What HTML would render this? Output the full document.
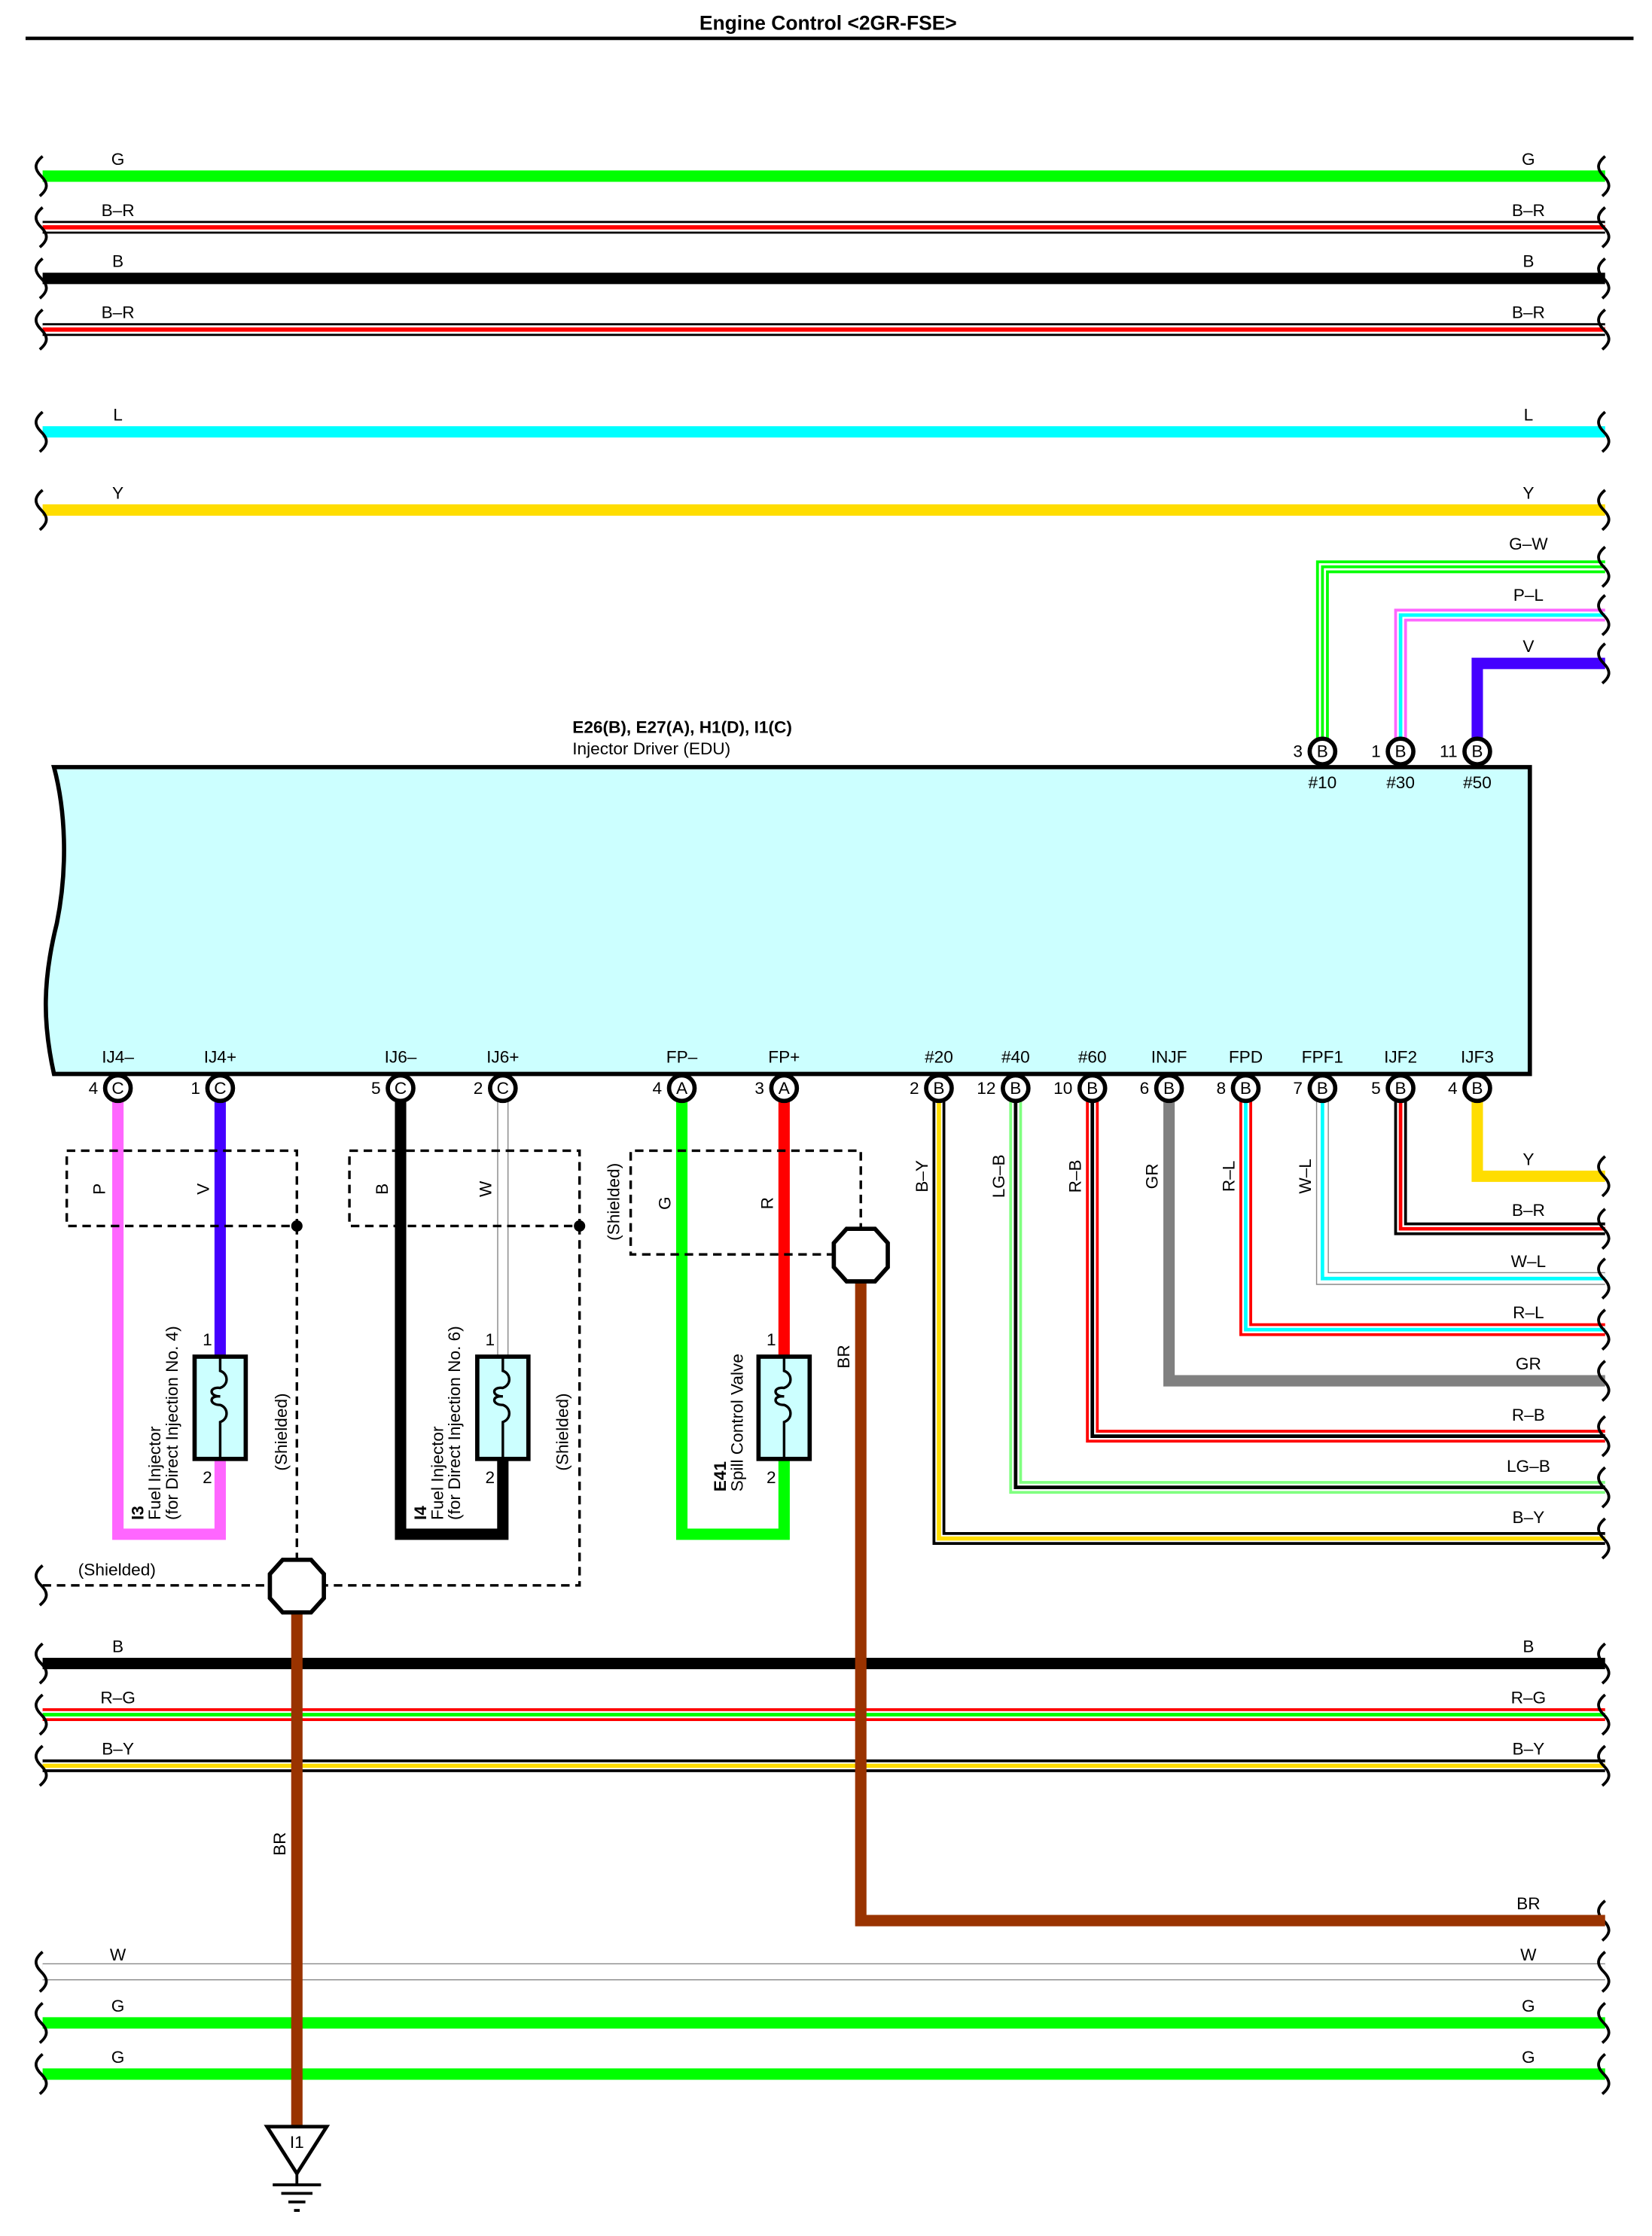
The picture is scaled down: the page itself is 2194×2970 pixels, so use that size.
<!DOCTYPE html>
<html><head><meta charset="utf-8"><style>
html,body{margin:0;padding:0;background:#fff}
svg{display:block}
text{font-family:"Liberation Sans",sans-serif;font-size:12px;fill:#000}
.p{fill:none;stroke-linejoin:miter;stroke-linecap:butt}
</style></head><body>
<svg width="2194" height="2970" viewBox="0 0 1163 1574" preserveAspectRatio="none" xmlns="http://www.w3.org/2000/svg">
<defs>
<path id="wl" d="M3,-14 c-6,5 -6,9 -1,14 c5,5 5,9 -1,14" fill="none" stroke="#000" stroke-width="2"/>
</defs>
<text x="583" y="21" text-anchor="middle" style="font-weight:bold;font-size:14px">Engine Control &lt;2GR-FSE&gt;</text>
<line x1="18" y1="27" x2="1150" y2="27" stroke="#000" stroke-width="2.5"/>

<g class="p">
<line x1="30" y1="124" x2="1130" y2="124" stroke="#00ff00" stroke-width="8"/>
<line x1="30" y1="160" x2="1130" y2="160" stroke="#000" stroke-width="9"/><line x1="30" y1="160" x2="1130" y2="160" stroke="#fff" stroke-width="6"/><line x1="30" y1="160" x2="1130" y2="160" stroke="#f00" stroke-width="3"/>
<line x1="30" y1="196" x2="1130" y2="196" stroke="#000" stroke-width="8"/>
<line x1="30" y1="232" x2="1130" y2="232" stroke="#000" stroke-width="9"/><line x1="30" y1="232" x2="1130" y2="232" stroke="#fff" stroke-width="6"/><line x1="30" y1="232" x2="1130" y2="232" stroke="#f00" stroke-width="3"/>
<line x1="30" y1="304" x2="1130" y2="304" stroke="#00ffff" stroke-width="8"/>
<line x1="30" y1="359" x2="1130" y2="359" stroke="#ffdd00" stroke-width="8"/>
<polyline points="1130,399 931,399 931,520" stroke="#00ff00" stroke-width="9" class="p"/><polyline points="1130,399 931,399 931,520" stroke="#fff" stroke-width="5" class="p"/><polyline points="1130,399 931,399 931,520" stroke="#00ff00" stroke-width="2" class="p"/>
<polyline points="1130,433 986,433 986,520" stroke="#ff66ff" stroke-width="9" class="p"/><polyline points="1130,433 986,433 986,520" stroke="#fff" stroke-width="5" class="p"/><polyline points="1130,433 986,433 986,520" stroke="#00ffff" stroke-width="2.5" class="p"/>
<polyline points="1130,467 1040,467 1040,520" stroke="#4400ff" stroke-width="8" class="p"/>
</g>
<g>
<text x="83" y="116" text-anchor="middle">G</text><text x="1076" y="116" text-anchor="middle">G</text>
<text x="83" y="152" text-anchor="middle">B–R</text><text x="1076" y="152" text-anchor="middle">B–R</text>
<text x="83" y="188" text-anchor="middle">B</text><text x="1076" y="188" text-anchor="middle">B</text>
<text x="83" y="224" text-anchor="middle">B–R</text><text x="1076" y="224" text-anchor="middle">B–R</text>
<text x="83" y="296" text-anchor="middle">L</text><text x="1076" y="296" text-anchor="middle">L</text>
<text x="83" y="351" text-anchor="middle">Y</text><text x="1076" y="351" text-anchor="middle">Y</text>
<text x="1076" y="387" text-anchor="middle">G–W</text>
<text x="1076" y="423" text-anchor="middle">P–L</text>
<text x="1076" y="459" text-anchor="middle">V</text>
</g>
<g>
<use href="#wl" x="27" y="124"/><use href="#wl" x="1127" y="124"/>
<use href="#wl" x="27" y="160"/><use href="#wl" x="1127" y="160"/>
<use href="#wl" x="27" y="196"/><use href="#wl" x="1127" y="196"/>
<use href="#wl" x="27" y="232"/><use href="#wl" x="1127" y="232"/>
<use href="#wl" x="27" y="304"/><use href="#wl" x="1127" y="304"/>
<use href="#wl" x="27" y="359"/><use href="#wl" x="1127" y="359"/>
<use href="#wl" x="1127" y="399"/><use href="#wl" x="1127" y="433"/><use href="#wl" x="1127" y="467"/>
</g>

<text x="403" y="516" style="font-weight:bold">E26(B), E27(A), H1(D), I1(C)</text>
<text x="403" y="531">Injector Driver (EDU)</text>
<path d="M38,540 L1077,540 L1077,756 L38,756 C30,720 30,690 40,650 C48,610 46,570 38,540 Z" fill="#ccffff" stroke="#000" stroke-width="3"/>

<g>
<circle cx="931" cy="529" r="9" fill="#fff" stroke="#000" stroke-width="3"/><text x="931" y="533" text-anchor="middle">B</text><text x="917" y="533" text-anchor="end">3</text><text x="931" y="555" text-anchor="middle">#10</text>
<circle cx="986" cy="529" r="9" fill="#fff" stroke="#000" stroke-width="3"/><text x="986" y="533" text-anchor="middle">B</text><text x="972" y="533" text-anchor="end">1</text><text x="986" y="555" text-anchor="middle">#30</text>
<circle cx="1040" cy="529" r="9" fill="#fff" stroke="#000" stroke-width="3"/><text x="1040" y="533" text-anchor="middle">B</text><text x="1026" y="533" text-anchor="end">11</text><text x="1040" y="555" text-anchor="middle">#50</text>
</g>

<g class="p">
<polyline points="661,775 661,1083 1130,1083" stroke="#000" stroke-width="9"/><polyline points="661,775 661,1083 1130,1083" stroke="#fff" stroke-width="5"/><polyline points="661,775 661,1083 1130,1083" stroke="#ffdd00" stroke-width="3"/>
<polyline points="715,775 715,1047 1130,1047" stroke="#80ff80" stroke-width="9"/><polyline points="715,775 715,1047 1130,1047" stroke="#fff" stroke-width="5"/><polyline points="715,775 715,1047 1130,1047" stroke="#000" stroke-width="2.5"/>
<polyline points="769,775 769,1011 1130,1011" stroke="#f00" stroke-width="9"/><polyline points="769,775 769,1011 1130,1011" stroke="#fff" stroke-width="5"/><polyline points="769,775 769,1011 1130,1011" stroke="#000" stroke-width="2.5"/>
<polyline points="823,775 823,972 1130,972" stroke="#808080" stroke-width="8"/>
<polyline points="877,775 877,936 1130,936" stroke="#f00" stroke-width="9"/><polyline points="877,775 877,936 1130,936" stroke="#fff" stroke-width="5"/><polyline points="877,775 877,936 1130,936" stroke="#00ffff" stroke-width="2.5"/>
<polyline points="931,775 931,900 1130,900" stroke="#888" stroke-width="9"/><polyline points="931,775 931,900 1130,900" stroke="#fff" stroke-width="7.5"/><polyline points="931,775 931,900 1130,900" stroke="#00ffff" stroke-width="2.5"/>
<polyline points="986,775 986,865 1130,865" stroke="#000" stroke-width="9"/><polyline points="986,775 986,865 1130,865" stroke="#fff" stroke-width="5"/><polyline points="986,775 986,865 1130,865" stroke="#f00" stroke-width="2.5"/>
<polyline points="1040,775 1040,828 1130,828" stroke="#ffdd00" stroke-width="8"/>
</g>
<g>
<use href="#wl" x="1127" y="828"/><use href="#wl" x="1127" y="865"/><use href="#wl" x="1127" y="900"/><use href="#wl" x="1127" y="936"/>
<use href="#wl" x="1127" y="972"/><use href="#wl" x="1127" y="1011"/><use href="#wl" x="1127" y="1047"/><use href="#wl" x="1127" y="1083"/>
<text x="1076" y="820" text-anchor="middle">Y</text>
<text x="1076" y="856" text-anchor="middle">B–R</text>
<text x="1076" y="892" text-anchor="middle">W–L</text>
<text x="1076" y="928" text-anchor="middle">R–L</text>
<text x="1076" y="964" text-anchor="middle">GR</text>
<text x="1076" y="1000" text-anchor="middle">R–B</text>
<text x="1076" y="1036" text-anchor="middle">LG–B</text>
<text x="1076" y="1072" text-anchor="middle">B–Y</text>
<text transform="translate(653,828) rotate(-90)" text-anchor="middle">B–Y</text>
<text transform="translate(707,828) rotate(-90)" text-anchor="middle">LG–B</text>
<text transform="translate(761,828) rotate(-90)" text-anchor="middle">R–B</text>
<text transform="translate(815,828) rotate(-90)" text-anchor="middle">GR</text>
<text transform="translate(869,828) rotate(-90)" text-anchor="middle">R–L</text>
<text transform="translate(923,828) rotate(-90)" text-anchor="middle">W–L</text>
</g>

<g class="p">
<polyline points="83,775 83,1080 155,1080 155,1027" stroke="#ff66ff" stroke-width="8"/>
<polyline points="155,775 155,955" stroke="#4400ff" stroke-width="8"/>
<polyline points="282,775 282,1080 354,1080 354,1027" stroke="#000" stroke-width="8"/>
<polyline points="354,775 354,955" stroke="#888" stroke-width="8"/><polyline points="354,775 354,955" stroke="#fff" stroke-width="6.5"/>
<polyline points="480,775 480,1080 552,1080 552,1027" stroke="#00ff00" stroke-width="8"/>
<polyline points="552,775 552,955" stroke="#f00" stroke-width="8"/>
</g>
<use href="#wl" x="1127" y="1352"/>
<text x="1076" y="1344" text-anchor="middle">BR</text>
<text transform="translate(598,955) rotate(-90)" text-anchor="middle">BR</text>

<g fill="#ccffff" stroke="#000" stroke-width="3">
<rect x="137" y="955" width="36" height="72"/><rect x="336" y="955" width="36" height="72"/><rect x="534" y="955" width="36" height="72"/>
</g>
<g fill="none" stroke="#000" stroke-width="1.8">
<path d="M155,955 v10 c6,2 6,10 0,12 c-8,-1 -8,6 0,6 c-8,-1 -8,6 0,6 c6,2 6,10 0,12 v26"/>
<path d="M354,955 v10 c6,2 6,10 0,12 c-8,-1 -8,6 0,6 c-8,-1 -8,6 0,6 c6,2 6,10 0,12 v26"/>
<path d="M552,955 v10 c6,2 6,10 0,12 c-8,-1 -8,6 0,6 c-8,-1 -8,6 0,6 c6,2 6,10 0,12 v26"/>
</g>
<text x="146" y="947" text-anchor="middle">1</text><text x="146" y="1044" text-anchor="middle">2</text>
<text x="345" y="947" text-anchor="middle">1</text><text x="345" y="1044" text-anchor="middle">2</text>
<text x="543" y="947" text-anchor="middle">1</text><text x="543" y="1044" text-anchor="middle">2</text>
<g transform="translate(101,1070) rotate(-90)"><text x="0" y="0" style="font-weight:bold">I3</text><text x="0" y="12">Fuel Injector</text><text x="0" y="24">(for Direct Injection No. 4)</text></g>
<g transform="translate(300,1070) rotate(-90)"><text x="0" y="0" style="font-weight:bold">I4</text><text x="0" y="12">Fuel Injector</text><text x="0" y="24">(for Direct Injection No. 6)</text></g>
<g transform="translate(511,1050) rotate(-90)"><text x="0" y="0" style="font-weight:bold">E41</text><text x="0" y="12">Spill Control Valve</text></g>

<text transform="translate(74,837) rotate(-90)" text-anchor="middle">P</text>
<text transform="translate(147,837) rotate(-90)" text-anchor="middle">V</text>
<text transform="translate(273,837) rotate(-90)" text-anchor="middle">B</text>
<text transform="translate(346,837) rotate(-90)" text-anchor="middle">W</text>
<text transform="translate(472,847) rotate(-90)" text-anchor="middle">G</text>
<text transform="translate(544,847) rotate(-90)" text-anchor="middle">R</text>

<g fill="none" stroke="#000" stroke-width="1.8" stroke-dasharray="6,4">
<rect x="47" y="810" width="162" height="53"/>
<rect x="246" y="810" width="162" height="53"/>
<path d="M588,883 H444 V810 H606 V865"/>
<path d="M209,863 V1097"/>
<path d="M408,863 V1116 H228"/>
<path d="M30,1116 H190"/>
</g>
<circle cx="209" cy="863" r="4" fill="#000"/><circle cx="408" cy="863" r="4" fill="#000"/>
<use href="#wl" x="27" y="1116"/>
<text x="55" y="1109">(Shielded)</text>
<text transform="translate(202,1008) rotate(-90)" text-anchor="middle">(Shielded)</text>
<text transform="translate(400,1008) rotate(-90)" text-anchor="middle">(Shielded)</text>
<text transform="translate(436,846) rotate(-90)" text-anchor="middle">(Shielded)</text>

<g>
<text x="83" y="748" text-anchor="middle">IJ4–</text><text x="155" y="748" text-anchor="middle">IJ4+</text>
<text x="282" y="748" text-anchor="middle">IJ6–</text><text x="354" y="748" text-anchor="middle">IJ6+</text>
<text x="480" y="748" text-anchor="middle">FP–</text><text x="552" y="748" text-anchor="middle">FP+</text>
<text x="661" y="748" text-anchor="middle">#20</text><text x="715" y="748" text-anchor="middle">#40</text>
<text x="769" y="748" text-anchor="middle">#60</text><text x="823" y="748" text-anchor="middle">INJF</text>
<text x="877" y="748" text-anchor="middle">FPD</text><text x="931" y="748" text-anchor="middle">FPF1</text>
<text x="986" y="748" text-anchor="middle">IJF2</text><text x="1040" y="748" text-anchor="middle">IJF3</text>
</g>
<g fill="#fff" stroke="#000" stroke-width="3">
<circle cx="83" cy="766" r="9"/><circle cx="155" cy="766" r="9"/><circle cx="282" cy="766" r="9"/><circle cx="354" cy="766" r="9"/>
<circle cx="480" cy="766" r="9"/><circle cx="552" cy="766" r="9"/><circle cx="661" cy="766" r="9"/><circle cx="715" cy="766" r="9"/>
<circle cx="769" cy="766" r="9"/><circle cx="823" cy="766" r="9"/><circle cx="877" cy="766" r="9"/><circle cx="931" cy="766" r="9"/>
<circle cx="986" cy="766" r="9"/><circle cx="1040" cy="766" r="9"/>
</g>
<g text-anchor="middle">
<text x="83" y="770">C</text><text x="155" y="770">C</text><text x="282" y="770">C</text><text x="354" y="770">C</text>
<text x="480" y="770">A</text><text x="552" y="770">A</text><text x="661" y="770">B</text><text x="715" y="770">B</text>
<text x="769" y="770">B</text><text x="823" y="770">B</text><text x="877" y="770">B</text><text x="931" y="770">B</text>
<text x="986" y="770">B</text><text x="1040" y="770">B</text>
</g>
<g text-anchor="end">
<text x="69" y="770">4</text><text x="141" y="770">1</text><text x="268" y="770">5</text><text x="340" y="770">2</text>
<text x="466" y="770">4</text><text x="538" y="770">3</text><text x="647" y="770">2</text><text x="701" y="770">12</text>
<text x="755" y="770">10</text><text x="809" y="770">6</text><text x="863" y="770">8</text><text x="917" y="770">7</text>
<text x="972" y="770">5</text><text x="1026" y="770">4</text>
</g>

<g class="p">
<line x1="30" y1="1171" x2="1130" y2="1171" stroke="#000" stroke-width="8"/>
<line x1="30" y1="1207" x2="1130" y2="1207" stroke="#f00" stroke-width="9"/><line x1="30" y1="1207" x2="1130" y2="1207" stroke="#fff" stroke-width="5"/><line x1="30" y1="1207" x2="1130" y2="1207" stroke="#00ff00" stroke-width="2.5"/>
<line x1="30" y1="1243" x2="1130" y2="1243" stroke="#000" stroke-width="9"/><line x1="30" y1="1243" x2="1130" y2="1243" stroke="#fff" stroke-width="5"/><line x1="30" y1="1243" x2="1130" y2="1243" stroke="#ffdd00" stroke-width="3"/>
<line x1="30" y1="1388" x2="1130" y2="1388" stroke="#888" stroke-width="12"/><line x1="30" y1="1388" x2="1130" y2="1388" stroke="#fff" stroke-width="10.5"/>
<line x1="30" y1="1424" x2="1130" y2="1424" stroke="#00ff00" stroke-width="8"/>
<line x1="30" y1="1460" x2="1130" y2="1460" stroke="#00ff00" stroke-width="8"/>
<polyline points="606,900 606,1352 1130,1352" stroke="#993300" stroke-width="8"/>
<line x1="209" y1="1136" x2="209" y2="1497" stroke="#993300" stroke-width="8"/>
</g>
<polygon points="199,1098 219,1098 228,1108 228,1125 219,1135 199,1135 190,1125 190,1108" fill="#fff" stroke="#000" stroke-width="3"/>
<polygon points="596,865 616,865 625,875 625,892 616,902 596,902 587,892 587,875" fill="#fff" stroke="#000" stroke-width="3"/>
<g>
<use href="#wl" x="27" y="1171"/><use href="#wl" x="1127" y="1171"/>
<use href="#wl" x="27" y="1207"/><use href="#wl" x="1127" y="1207"/>
<use href="#wl" x="27" y="1243"/><use href="#wl" x="1127" y="1243"/>
<use href="#wl" x="27" y="1388"/><use href="#wl" x="1127" y="1388"/>
<use href="#wl" x="27" y="1424"/><use href="#wl" x="1127" y="1424"/>
<use href="#wl" x="27" y="1460"/><use href="#wl" x="1127" y="1460"/>
<text x="83" y="1163" text-anchor="middle">B</text><text x="1076" y="1163" text-anchor="middle">B</text>
<text x="83" y="1199" text-anchor="middle">R–G</text><text x="1076" y="1199" text-anchor="middle">R–G</text>
<text x="83" y="1235" text-anchor="middle">B–Y</text><text x="1076" y="1235" text-anchor="middle">B–Y</text>
<text x="83" y="1380" text-anchor="middle">W</text><text x="1076" y="1380" text-anchor="middle">W</text>
<text x="83" y="1416" text-anchor="middle">G</text><text x="1076" y="1416" text-anchor="middle">G</text>
<text x="83" y="1452" text-anchor="middle">G</text><text x="1076" y="1452" text-anchor="middle">G</text>
</g>
<text transform="translate(201,1298) rotate(-90)" text-anchor="middle">BR</text>

<polygon points="188,1497 230,1497 209,1530" fill="#fff" stroke="#000" stroke-width="2.5"/>
<text x="209" y="1512" text-anchor="middle">I1</text>
<g stroke="#000" stroke-width="2">
<line x1="209" y1="1530" x2="209" y2="1538"/>
<line x1="192" y1="1538" x2="226" y2="1538"/>
<line x1="198" y1="1544" x2="220" y2="1544"/>
<line x1="203" y1="1550" x2="215" y2="1550"/>
<line x1="207" y1="1556" x2="211" y2="1556"/>
</g>
</svg>
</body></html>
